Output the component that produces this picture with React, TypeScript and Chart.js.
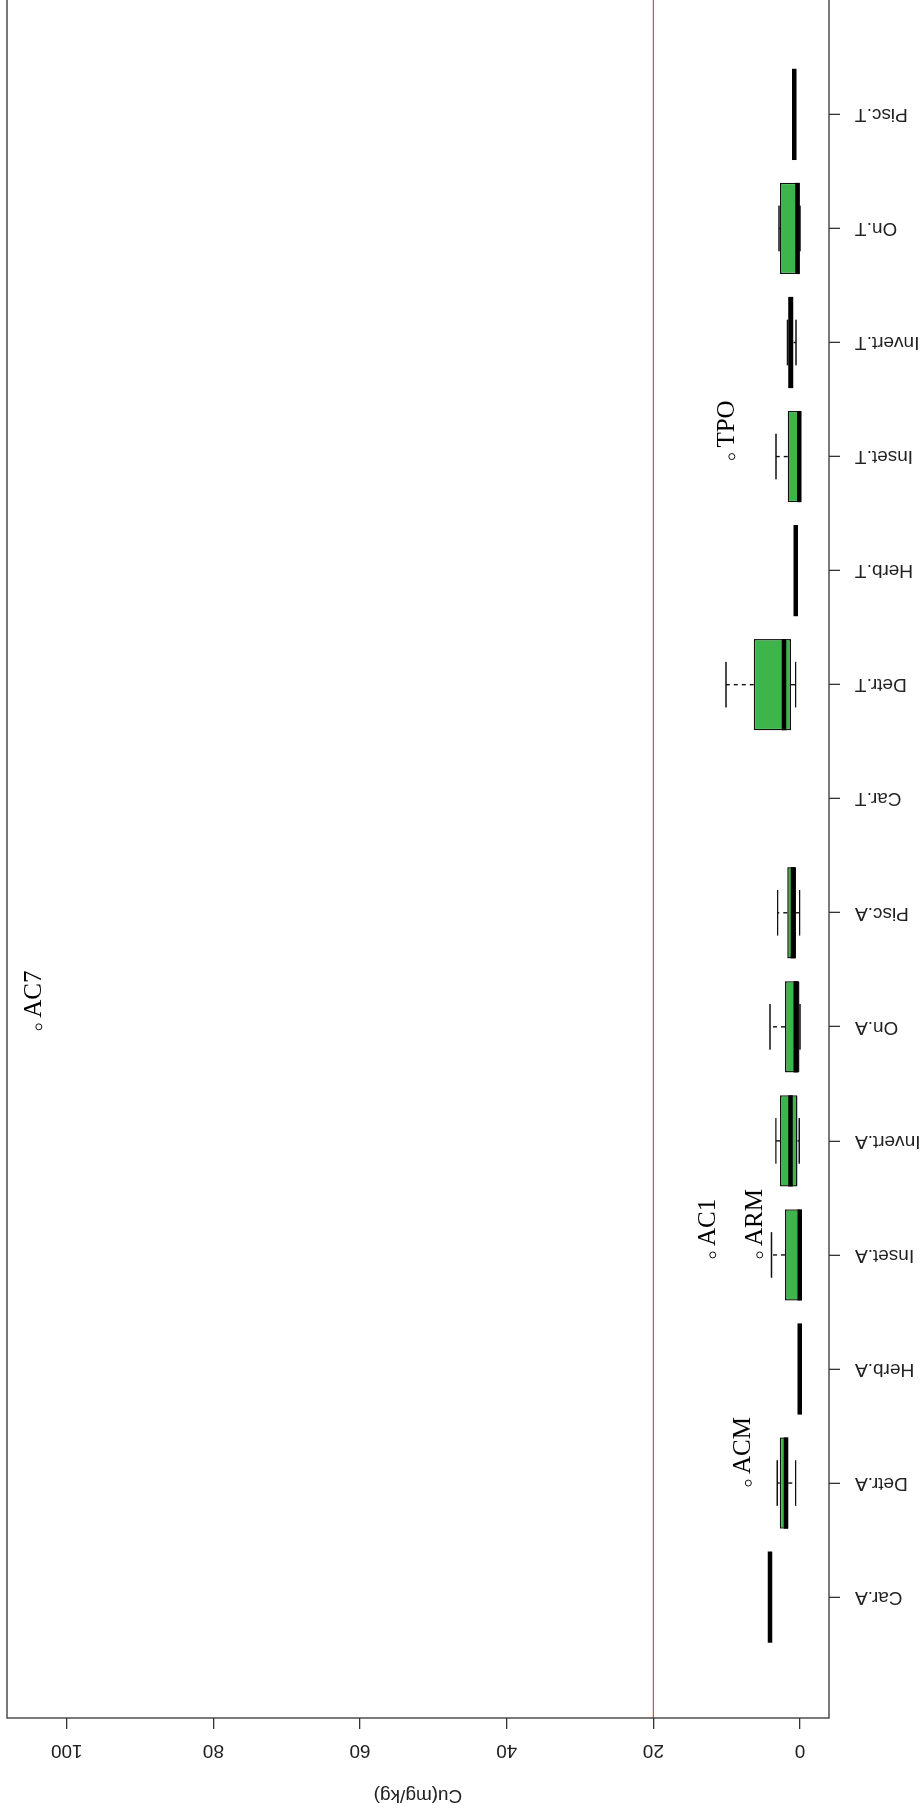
import React, { useEffect, useRef } from "react";
import { Chart, registerables } from "chart.js";

Chart.register(...registerables);

// Feeding groups (A = aquatic, T = terrestrial)
const categories = [
  "Car.A", "Detr.A", "Herb.A", "Inset.A", "Invert.A", "On.A", "Pisc.A",
  "Car.T", "Detr.T", "Herb.T", "Inset.T", "Invert.T", "On.T", "Pisc.T",
];

// Five-number summaries of Cu (mg/kg) per group; null = no samples
const lowerWhisker = [4.1, 0.6, 0.05, 0.0, 0.1, 0.0, 0.05, null, 0.6, 0.6, 0.0, 0.55, 0.0, 0.8];
const lowerQuartile = [4.1, 1.6, 0.05, 0.0, 0.36, 0.0, 0.55, null, 1.23, 0.6, 0.0, 0.9, 0.05, 0.8];
const medians = [4.1, 1.9, 0.05, 0.05, 1.3, 0.6, 0.95, null, 2.2, 0.6, 0.1, 1.25, 0.35, 0.8];
const upperQuartile = [4.1, 2.75, 0.05, 2.05, 2.73, 2.05, 1.73, null, 6.3, 0.6, 1.68, 1.6, 2.73, 0.8];
const upperWhisker = [4.1, 3.1, 0.05, 3.9, 3.3, 4.1, 3.05, null, 10.1, 0.6, 3.27, 1.7, 2.86, 0.8];

// Outlying samples
const outlierGroup = ["Detr.A", "Inset.A", "Inset.A", "On.A", "Inset.T"];
const outlierValue = [7.05, 5.5, 11.9, 103.8, 9.3];
const outlierName = ["ACM", "ARM", "AC1", "AC7", "TPO"];

const valueTicks = [0, 20, 40, 60, 80, 100];
const guideValue = 20;
const axisTitle = "Cu(mg/kg)";

const BOX_WIDTH = 0.8;
const CAP_WIDTH = 0.4;
const INK = "#111";
const SANS = "'Liberation Sans', Arial, sans-serif";
const SERIF = "'Liberation Serif', 'Times New Roman', serif";

const boxplotParts = {
  id: "boxplotParts",
  beforeDatasetsDraw(chart: any) {
    const { ctx, scales } = chart;
    const x = scales.x;
    const y = scales.y;
    ctx.save();
    ctx.strokeStyle = INK;
    ctx.lineWidth = 1.4;
    categories.forEach((_, i) => {
      if (medians[i] == null) return;
      const cx = x.getPixelForValue(i + 1);
      const half = Math.abs(x.getPixelForValue(i + 1 + CAP_WIDTH / 2) - cx);
      const yLw = y.getPixelForValue(lowerWhisker[i]);
      const yQ1 = y.getPixelForValue(lowerQuartile[i]);
      const yQ3 = y.getPixelForValue(upperQuartile[i]);
      const yUw = y.getPixelForValue(upperWhisker[i]);
      ctx.setLineDash([4, 4]);
      ctx.beginPath();
      ctx.moveTo(cx, yQ1);
      ctx.lineTo(cx, yLw);
      ctx.moveTo(cx, yQ3);
      ctx.lineTo(cx, yUw);
      ctx.stroke();
      ctx.setLineDash([]);
      ctx.beginPath();
      ctx.moveTo(cx - half, yLw);
      ctx.lineTo(cx + half, yLw);
      ctx.moveTo(cx - half, yUw);
      ctx.lineTo(cx + half, yUw);
      ctx.stroke();
    });
    ctx.restore();
  },
  afterDatasetsDraw(chart: any) {
    const { ctx, scales, chartArea } = chart;
    const x = scales.x;
    const y = scales.y;
    ctx.save();

    // medians
    ctx.strokeStyle = "#000";
    ctx.lineWidth = 4.5;
    ctx.lineCap = "butt";
    categories.forEach((_, i) => {
      if (medians[i] == null) return;
      const cx = x.getPixelForValue(i + 1);
      const half = Math.abs(x.getPixelForValue(i + 1 + BOX_WIDTH / 2) - cx);
      const ym = y.getPixelForValue(medians[i]);
      ctx.beginPath();
      ctx.moveTo(cx - half, ym);
      ctx.lineTo(cx + half, ym);
      ctx.stroke();
    });

    // guide line
    ctx.strokeStyle = "#f04848";
    ctx.lineWidth = 1.3;
    const gy = y.getPixelForValue(guideValue);
    ctx.beginPath();
    ctx.moveTo(chartArea.left, gy);
    ctx.lineTo(chartArea.right, gy);
    ctx.stroke();

    // outlier names
    ctx.fillStyle = "#000";
    ctx.font = `25px ${SERIF}`;
    ctx.textAlign = "left";
    ctx.textBaseline = "alphabetic";
    outlierName.forEach((name, k) => {
      const pos = categories.indexOf(outlierGroup[k]) + 1;
      const px = x.getPixelForValue(pos);
      const py = y.getPixelForValue(outlierValue[k]);
      ctx.fillText(name, px + 9, py + 2);
    });

    // plot frame
    ctx.strokeStyle = "#333";
    ctx.lineWidth = 1.3;
    ctx.strokeRect(chartArea.left, chartArea.top, chartArea.right - chartArea.left, chartArea.bottom - chartArea.top);

    // value labels, written along the axis
    ctx.fillStyle = "#222";
    ctx.font = `19px ${SANS}`;
    ctx.textAlign = "center";
    ctx.textBaseline = "middle";
    y.ticks.forEach((t: any) => {
      const py = y.getPixelForValue(t.value);
      ctx.save();
      ctx.translate(chartArea.left - 32, py);
      ctx.rotate(-Math.PI / 2);
      ctx.fillText(String(t.value), 0, 0);
      ctx.restore();
    });
    ctx.restore();
  },
};

export default function App() {
  const canvasRef = useRef<HTMLCanvasElement>(null);

  useEffect(() => {
    const canvas = canvasRef.current;
    if (!canvas) return;

    const boxes = categories
      .map((_, i) =>
        lowerQuartile[i] == null ? null : { x: i + 1, y: [lowerQuartile[i], upperQuartile[i]] }
      )
      .filter((d) => d !== null);

    const outlierPoints = outlierGroup.map((g, k) => ({
      x: categories.indexOf(g) + 1,
      y: outlierValue[k],
    }));

    const chart = new Chart(canvas, {
      type: "bar",
      data: {
        datasets: [
          {
            type: "bar",
            label: "box",
            data: boxes as any,
            backgroundColor: "#3db54a",
            borderColor: INK,
            borderWidth: 1.4,
            borderSkipped: false,
            barPercentage: BOX_WIDTH,
            categoryPercentage: 1,
          },
          {
            type: "scatter",
            label: "outliers",
            data: outlierPoints,
            pointRadius: 3,
            pointBorderWidth: 1,
            pointBorderColor: INK,
            pointBackgroundColor: "rgba(0,0,0,0)",
            showLine: false,
          } as any,
        ],
      },
      options: {
        animation: false,
        responsive: false,
        devicePixelRatio: 1,
        layout: { padding: { top: 7, right: 17.5, bottom: 0, left: 0 } },
        plugins: { legend: { display: false }, tooltip: { enabled: false } },
        scales: {
          x: {
            type: "linear",
            offset: false,
            min: -0.06,
            max: 15.06,
            afterBuildTicks: (scale: any) => {
              scale.ticks = categories.map((_, i) => ({ value: i + 1 }));
            },
            afterFit: (scale: any) => {
              scale.height = 95;
            },
            grid: {
              offset: false,
              drawOnChartArea: false,
              drawTicks: true,
              tickLength: 11,
              color: "#333",
              lineWidth: 1.3,
            },
            border: { display: false },
            ticks: {
              autoSkip: false,
              minRotation: 90,
              maxRotation: 90,
              padding: 15,
              color: "#222",
              font: { size: 19, family: SANS },
              callback: (v: any) => categories[Number(v) - 1] ?? "",
            },
          },
          y: {
            type: "linear",
            min: -3.95,
            max: 108.14,
            afterBuildTicks: (scale: any) => {
              scale.ticks = valueTicks.map((v) => ({ value: v }));
            },
            afterFit: (scale: any) => {
              scale.width = 98;
            },
            grid: { drawOnChartArea: false, drawTicks: true, tickLength: 11, color: "#333", lineWidth: 1.3 },
            border: { display: false },
            ticks: { display: false },
            title: {
              display: true,
              text: axisTitle,
              color: "#222",
              font: { size: 19, family: SANS },
              padding: { top: 9.6, bottom: 0 },
            },
          },
        },
      },
      plugins: [boxplotParts],
    });

    return () => chart.destroy();
  }, []);

  return (
    <div
      style={{
        position: "absolute",
        left: 0,
        top: 0,
        width: 924,
        height: 1816,
        overflow: "hidden",
        background: "#fff",
      }}
    >
      <div
        style={{
          position: "absolute",
          left: 0,
          top: 0,
          width: 1840,
          height: 924,
          transformOrigin: "0 0",
          transform: "translate(0px, 1816px) rotate(-90deg)",
        }}
      >
        <canvas ref={canvasRef} width={1840} height={924} style={{ display: "block", width: 1840, height: 924 }} />
      </div>
    </div>
  );
}
